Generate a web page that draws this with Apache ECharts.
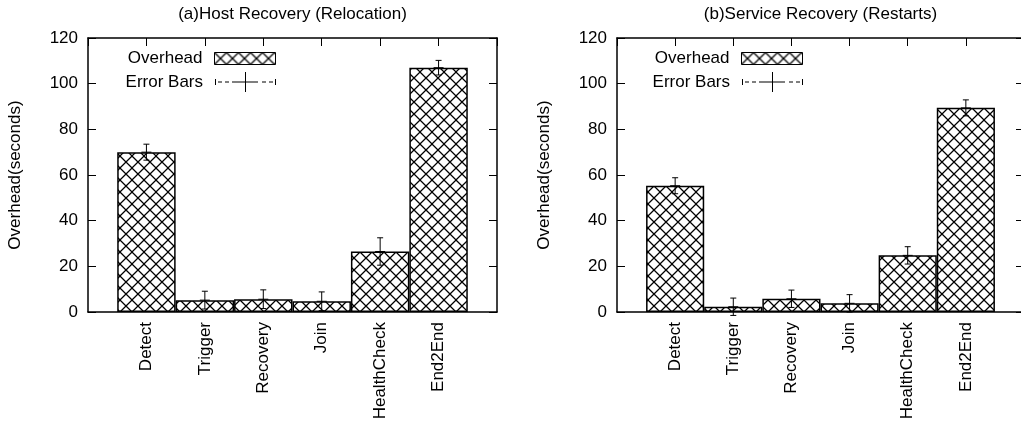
<!DOCTYPE html>
<html>
<head>
<meta charset="utf-8">
<script src="https://cdn.jsdelivr.net/npm/echarts@6/dist/echarts.min.js"></script>
<style>
html,body{margin:0;padding:0;background:#fff;}
#chart{width:1021px;height:425px;}
</style>
</head>
<body>
<div id="chart"></div>
<script>
// ---- data ----
const categories = ['Detect', 'Trigger', 'Recovery', 'Join', 'HealthCheck', 'End2End'];
const hostOverhead = [70, 5.2, 5.6, 4.7, 26.5, 107];
const hostError = [3.5, 3.9, 4.1, 4.1, 6, 3.2];
const serviceOverhead = [55.3, 2.3, 5.8, 3.8, 24.8, 89.4];
const serviceError = [3.5, 3.8, 3.8, 3.8, 3.8, 3.5];
const titles = ['(a)Host Recovery (Relocation)', '(b)Service Recovery (Restarts)'];
const yTitle = 'Overhead(seconds)';
const yMin = 0, yMax = 120, yStep = 20;

// ---- styling helpers ----
const FONT = '"Liberation Sans", Arial, Helvetica, sans-serif';
const FS = 17;

function makeHatch() {
  const c = document.createElement('canvas');
  c.width = 12; c.height = 12;
  const ctx = c.getContext('2d');
  ctx.fillStyle = '#fff';
  ctx.fillRect(0, 0, 12, 12);
  ctx.strokeStyle = '#000';
  ctx.lineWidth = 1.25;
  ctx.beginPath();
  ctx.moveTo(-1, -1); ctx.lineTo(13, 13);
  ctx.moveTo(13, -1); ctx.lineTo(-1, 13);
  ctx.stroke();
  return c;
}
const hatch = { image: makeHatch(), repeat: 'repeat' };

// category axis with one empty slot on each side (gnuplot-like padding)
const axisCats = [' '].concat(categories, ['  ']);

const errIcon = 'path://M0 7h1v6h-1z M3 9.5h4v1h-4z M10 9.5h4v1h-4z M17 9.5h26v1h-26z M30 0h1v20h-1z M47 9.5h4v1h-4z M54 9.5h4v1h-4z M60 7h1v6h-1z';

const grids = [
  { left: 88, top: 38, width: 409, height: 274, outerBoundsMode: 'none', containLabel: false },
  { left: 617, top: 38, width: 407, height: 274, outerBoundsMode: 'none', containLabel: false }
];
const legendRight = [745, 218];
const series = [], xAxes = [], yAxes = [], legends = [], titleArr = [];
const sets = [[hostOverhead, hostError], [serviceOverhead, serviceError]];
const titleCenters = [292.5, 820.5];

function errRender(params, api) {
  const x = api.value(0), m = api.value(1), lo = api.value(2), hi = api.value(3);
  const pm = api.coord([x, m]);
  const pl = api.coord([x, lo]);
  const ph = api.coord([x, hi]);
  const st = { stroke: '#000', lineWidth: 1 };
  const cx = pm[0];
  return {
    type: 'group',
    children: [
      { type: 'line', shape: { x1: cx, y1: pl[1], x2: cx, y2: ph[1] }, style: st },
      { type: 'line', shape: { x1: cx - 3, y1: pl[1], x2: cx + 3, y2: pl[1] }, style: st },
      { type: 'line', shape: { x1: cx - 3, y1: ph[1], x2: cx + 3, y2: ph[1] }, style: st },
      { type: 'line', shape: { x1: cx - 5, y1: pm[1], x2: cx + 5, y2: pm[1] }, style: st }
    ]
  };
}

for (let g = 0; g < 2; g++) {
  const vals = sets[g][0], errs = sets[g][1];
  titleArr.push({
    text: titles[g], left: titleCenters[g], top: 6, textAlign: 'center', padding: 0,
    textStyle: { fontFamily: FONT, fontSize: FS, fontWeight: 'normal', color: '#000' }
  });
  const axisLine = { show: true, onZero: false, lineStyle: { color: '#000', width: 1.5 } };
  xAxes.push({
    type: 'category', gridIndex: g, data: axisCats, boundaryGap: false, position: 'bottom',
    axisLine: axisLine,
    axisTick: { show: false },
    axisLabel: { rotate: 90, interval: 0, margin: 10, fontFamily: FONT, fontSize: FS, color: '#000' },
    splitLine: { show: false }
  });
  xAxes.push({
    type: 'category', gridIndex: g, data: axisCats, boundaryGap: false, position: 'top',
    axisLine: axisLine,
    axisTick: { show: true, inside: true, length: 8, interval: 0, lineStyle: { color: '#000' } },
    axisLabel: { show: false },
    splitLine: { show: false }
  });
  yAxes.push({
    type: 'value', gridIndex: g, min: yMin, max: yMax, interval: yStep, position: 'left',
    name: yTitle, nameLocation: 'middle', nameGap: 64, nameRotate: 90,
    nameTextStyle: { fontFamily: FONT, fontSize: FS, color: '#000' },
    axisLine: axisLine,
    axisTick: { show: true, inside: true, length: 8, lineStyle: { color: '#000' } },
    axisLabel: { margin: 10, fontFamily: FONT, fontSize: FS, color: '#000' },
    splitLine: { show: false }
  });
  yAxes.push({
    type: 'value', gridIndex: g, min: yMin, max: yMax, interval: yStep, position: 'right',
    axisLine: axisLine,
    axisTick: { show: true, inside: true, length: 8, lineStyle: { color: '#000' } },
    axisLabel: { show: false },
    splitLine: { show: false }
  });
  series.push({
    name: 'Overhead', type: 'bar', xAxisIndex: g * 2, yAxisIndex: g * 2,
    barWidth: '100%', barGap: '0%',
    data: categories.map((c, i) => [c, vals[i]]),
    itemStyle: { color: hatch, borderColor: '#000', borderWidth: 1.5 },
    emphasis: { disabled: true },
    silent: true, animation: false
  });
  series.push({
    name: 'Error Bars', type: 'custom', xAxisIndex: g * 2, yAxisIndex: g * 2,
    data: categories.map((c, i) => [c, vals[i], vals[i] - errs[i], vals[i] + errs[i]]),
    encode: { x: 0, y: [1, 2, 3] },
    renderItem: errRender,
    itemStyle: { color: '#000' },
    z: 5, silent: true, animation: false
  });
  legends.push({
    data: [{ name: 'Overhead', icon: 'rect', itemStyle: { borderWidth: 1, borderColor: '#000' } }],
    right: legendRight[g], top: 50, padding: 0, align: 'right',
    itemWidth: 61, itemHeight: 12, selectedMode: false,
    textStyle: { fontFamily: FONT, fontSize: FS, color: '#000', padding: [0, 7, 0, 0] }
  });
  legends.push({
    data: [{ name: 'Error Bars', icon: errIcon }],
    right: legendRight[g], top: 72, padding: 0, align: 'right',
    itemWidth: 61, itemHeight: 20, selectedMode: false,
    textStyle: { fontFamily: FONT, fontSize: FS, color: '#000', padding: [0, 7, 0, 0] }
  });
}

const chart = echarts.init(document.getElementById('chart'), null, { renderer: 'canvas' });
chart.setOption({
  animation: false,
  backgroundColor: '#fff',
  title: titleArr,
  grid: grids,
  xAxis: xAxes,
  yAxis: yAxes,
  legend: legends,
  series: series
});
</script>
</body>
</html>
